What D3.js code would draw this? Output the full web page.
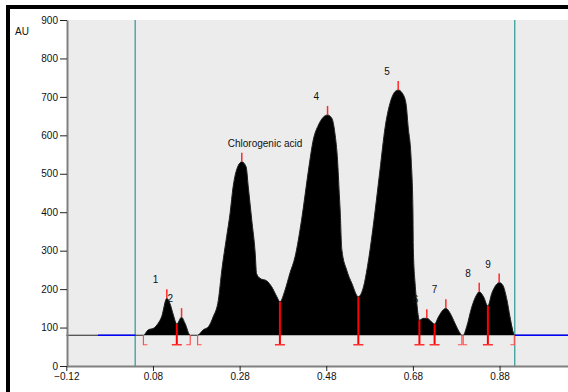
<!DOCTYPE html>
<html>
<head>
<meta charset="utf-8">
<script src="https://cdn.jsdelivr.net/npm/d3@7"></script>
<style>
  body { margin: 0; background: #fff; }
  svg { display: block; font-family: "Liberation Sans", Arial, sans-serif; }
</style>
</head>
<body>
<svg id="chart" width="568" height="392"></svg>
<script>
// chromatogram trace (time in min, signal in AU)
const signalTime = [-0.12, 0.039, 0.058, 0.069, 0.081, 0.092, 0.100, 0.112, 0.119, 0.127, 0.135,
  0.146, 0.154, 0.166, 0.183, 0.196, 0.208, 0.219, 0.231, 0.239, 0.250, 0.258, 0.265, 0.273,
  0.285, 0.295, 0.300, 0.308, 0.316, 0.319, 0.327, 0.343, 0.354, 0.366, 0.373, 0.385, 0.396,
  0.408, 0.423, 0.439, 0.450, 0.462, 0.473, 0.483, 0.493, 0.500, 0.506, 0.510, 0.512, 0.516,
  0.527, 0.539, 0.554, 0.566, 0.575, 0.581, 0.593, 0.604, 0.616, 0.627, 0.639, 0.646, 0.656,
  0.664, 0.669, 0.676, 0.680, 0.681, 0.685, 0.689, 0.695, 0.704, 0.712, 0.723, 0.730, 0.739,
  0.750, 0.756, 0.766, 0.777, 0.789, 0.793, 0.796, 0.804, 0.816, 0.827, 0.833, 0.843, 0.853,
  0.862, 0.872, 0.879, 0.887, 0.897, 0.904, 0.914, 1.04]
const signalAU = [80, 80, 80, 94, 98, 111, 128, 176, 163, 133, 109,
  127, 111, 80, 80, 94, 102, 128, 172, 250, 336, 397, 466, 510,
  531, 518, 466, 380, 293, 241, 228, 221, 206, 180, 167, 198, 241,
  284, 380, 510, 588, 627, 647, 653, 644, 605, 536, 449, 406, 302,
  250, 215, 180, 206, 258, 302, 406, 510, 622, 683, 714, 718, 709,
  683, 622, 536, 406, 302, 215, 163, 119, 124, 124, 115, 109, 128,
  146, 150, 137, 111, 85, 80, 80, 102, 154, 185, 193, 180, 156,
  189, 211, 217, 211, 172, 128, 80, 80]

const baselineAU = 80

// peak apexes and their names
const peakNames = ['1', '2', 'Chlorogenic acid', '4', '5', '6', '7', '8', '9']
const peakTime = [0.112, 0.146, 0.285, 0.483, 0.646, 0.712, 0.756, 0.833, 0.879]
const peakAU = [176, 127, 531, 653, 718, 124, 150, 193, 217]

// drop lines between fused peaks
const valleyTime = [0.135, 0.373, 0.554, 0.695, 0.730, 0.853]
const valleyAU = [109, 167, 180, 119, 109, 156]

// integration start / end marks on the baseline
const startTime = [0.058, 0.183, 0.796]
const endTime = [0.166, 0.793, 0.914]

// integration window and blue baseline pieces
const windowTime = [0.039, 0.915]
const blueBaseline = [[-0.047, 0.039], [0.915, 1.04]]

const xTicks = [-0.12, 0.08, 0.28, 0.48, 0.68, 0.88]
const yTicks = [0, 100, 200, 300, 400, 500, 600, 700, 800, 900]

const svg = d3.select('#chart')
const plotLeft = 67
const plotTop = 20
const plotBottom = 366
const plotRight = 568

const x = d3.scaleLinear().domain([-0.12, 1.04]).range([66.3, 568.9])
const y = d3.scaleLinear().domain([0, 900]).range([plotBottom, plotTop])

// outer frame (thick black top and left edges)
svg.append('rect').attr('x', 6).attr('y', 5).attr('width', 562).attr('height', 4).attr('fill', '#000')
svg.append('rect').attr('x', 6).attr('y', 5).attr('width', 4).attr('height', 387).attr('fill', '#000')

// plot background
svg.append('rect')
  .attr('x', plotLeft).attr('y', plotTop)
  .attr('width', plotRight - plotLeft).attr('height', plotBottom - plotTop)
  .attr('fill', '#ececec')

// integration window lines
svg.selectAll('line.window')
  .data(windowTime)
  .join('line')
  .attr('class', 'window')
  .attr('x1', d => x(d)).attr('x2', d => x(d))
  .attr('y1', plotTop).attr('y2', plotBottom)
  .attr('stroke', '#3a9e9e')
  .attr('stroke-width', 1.3)

const pts = signalTime.map((t, i) => [t, signalAU[i]])

// filled peaks
svg.append('path')
  .datum(pts.filter(p => p[0] >= windowTime[0] && p[0] <= windowTime[1]))
  .attr('d', d3.area().curve(d3.curveMonotoneX).x(d => x(d[0])).y0(y(baselineAU)).y1(d => y(d[1])))
  .attr('fill', '#000')

// trace
svg.append('path')
  .datum(pts)
  .attr('d', d3.line().curve(d3.curveMonotoneX).x(d => x(d[0])).y(d => y(d[1])))
  .attr('fill', 'none')
  .attr('stroke', '#222')
  .attr('stroke-width', 1)

// blue baseline
svg.selectAll('line.base')
  .data(blueBaseline)
  .join('line')
  .attr('class', 'base')
  .attr('x1', d => x(d[0])).attr('x2', d => x(d[1]))
  .attr('y1', y(baselineAU)).attr('y2', y(baselineAU))
  .attr('stroke', '#0000ff')
  .attr('stroke-width', 1.5)

// red apex ticks
svg.selectAll('line.apex')
  .data(peakTime)
  .join('line')
  .attr('class', 'apex')
  .attr('x1', d => x(d)).attr('x2', d => x(d))
  .attr('y1', (d, i) => y(peakAU[i])).attr('y2', (d, i) => y(peakAU[i]) - 9)
  .attr('stroke', '#ff2a2a')
  .attr('stroke-width', 1.5)

// drop lines with T foot
const footY = y(baselineAU) + 9.5
const drops = svg.selectAll('g.drop')
  .data(valleyTime)
  .join('g')
  .attr('class', 'drop')
drops.append('line')
  .attr('x1', d => x(d)).attr('x2', d => x(d))
  .attr('y1', (d, i) => y(valleyAU[i])).attr('y2', footY)
  .attr('stroke', '#ff0000')
  .attr('stroke-width', 2)
drops.append('line')
  .attr('x1', d => x(d) - 5).attr('x2', d => x(d) + 5)
  .attr('y1', footY).attr('y2', footY)
  .attr('stroke', '#ff3030')
  .attr('stroke-width', 1.5)

// start / end brackets
function bracket (times, dir) {
  svg.selectAll('path.b' + (dir > 0 ? 'start' : 'end'))
    .data(times)
    .join('path')
    .attr('class', 'b' + (dir > 0 ? 'start' : 'end'))
    .attr('d', d => {
      const px = x(d)
      return `M${px + dir * 4},${footY}H${px}V${y(baselineAU)}`
    })
    .attr('fill', 'none')
    .attr('stroke', '#ff5050')
    .attr('stroke-width', 1.2)
}
bracket(startTime, 1)
bracket(endTime, -1)

// peak labels
svg.selectAll('text.peak')
  .data(peakNames)
  .join('text')
  .attr('class', 'peak')
  .attr('x', (d, i) => x(peakTime[i]) - 14)
  .attr('y', (d, i) => y(peakAU[i]) - 15)
  .attr('font-size', 10)
  .attr('fill', '#111')
  .text(d => d)

// axes
const xAxis = svg.append('g')
  .attr('transform', `translate(0,${plotBottom})`)
  .call(d3.axisBottom(x).tickValues(xTicks).tickFormat(d3.format('.2f')).tickSize(5).tickSizeOuter(0).tickPadding(2))
xAxis.select('.domain').attr('d', `M${plotLeft},0.5H${plotRight}`)

svg.append('g')
  .attr('transform', `translate(${plotLeft},0)`)
  .call(d3.axisLeft(y).tickValues(yTicks).tickSize(7).tickSizeOuter(0).tickPadding(2))

svg.selectAll('.domain').attr('stroke', '#808080').attr('stroke-width', 2)
svg.selectAll('.tick line').attr('stroke', '#222')
svg.selectAll('.tick text')
  .attr('font-family', '"Liberation Sans", Arial, sans-serif')
  .attr('font-size', 10)
  .attr('fill', '#111')

svg.append('text')
  .attr('x', 15).attr('y', 35)
  .attr('font-size', 10)
  .attr('fill', '#111')
  .text('AU')
</script>
</body>
</html>
